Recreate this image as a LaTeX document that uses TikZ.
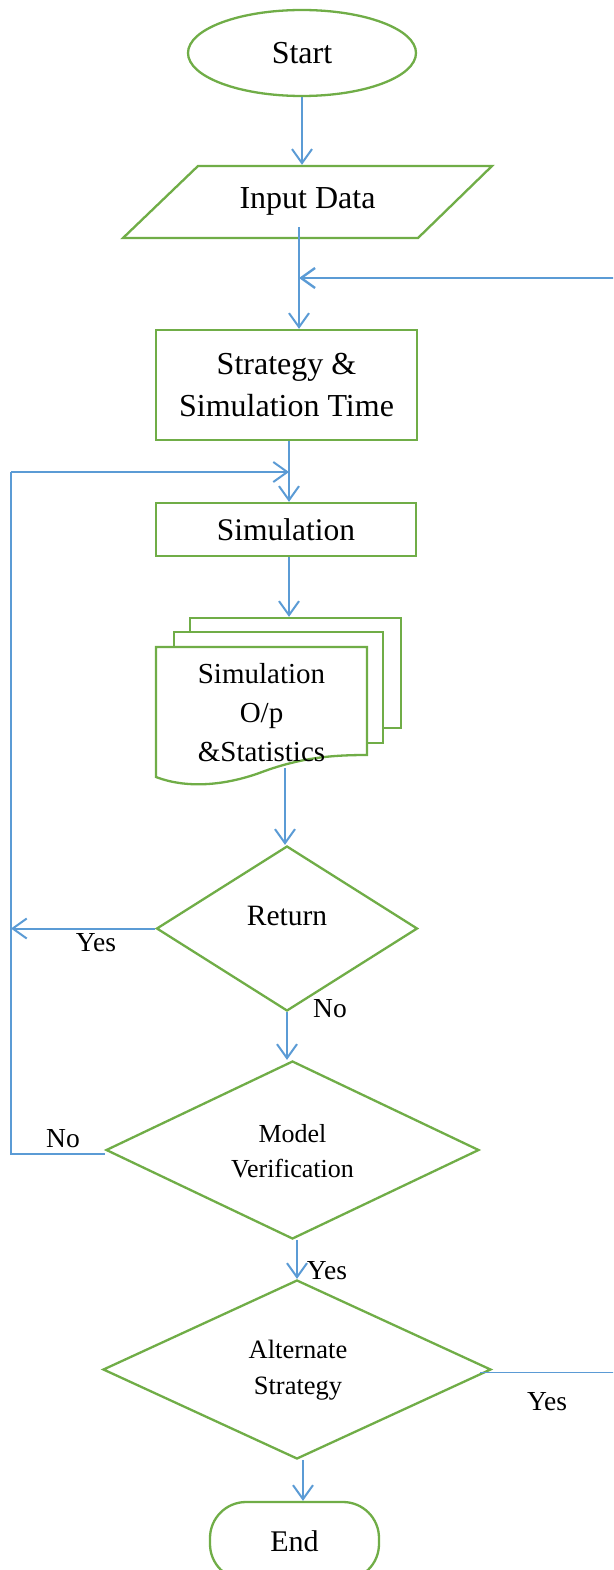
\documentclass[tikz,border=0pt]{standalone}
\usepackage{fontspec}
\setmainfont{Liberation Serif}
\usetikzlibrary{shapes.geometric,arrows.meta}
\definecolor{boxgreen}{HTML}{70AD47}
\definecolor{flowblue}{HTML}{5B9BD5}
\begin{document}
\begin{tikzpicture}[x=1pt,y=-1pt,
  outline/.style={draw=boxgreen, line width=2.3pt, fill=white},
  procbox/.style={outline, rectangle, inner sep=0pt},
  decision/.style={outline, diamond, inner sep=0pt},
  flow/.style={draw=flowblue, line width=2pt, -{Straight Barb[length=14pt,width=20pt]}},
  plainflow/.style={draw=flowblue, line width=1.4pt},
  lbl/.style={font=\fontsize{27.5}{30}\selectfont, inner sep=0pt},
]
\useasboundingbox (0,0) rectangle (613,1570);
\clip (0,0) rectangle (613,1570);

% ---- shapes ----
\node[outline, ellipse, minimum width=228pt, minimum height=86pt, inner sep=0pt,
      font=\fontsize{32}{36}\selectfont] (start) at (302,53) {Start};

% input parallelogram, drawn around its text node
\draw[outline] (198,166) -- (492,166) -- (418,238) -- (123,238) -- cycle;
\node[rectangle, minimum width=295pt, minimum height=72pt, inner sep=0pt,
      font=\fontsize{32}{36}\selectfont] (input) at (307.5,201) {Input Data};

\node[procbox, minimum width=261pt, minimum height=110pt, align=center,
      font=\fontsize{32}{42}\selectfont] (strat) at (286.5,385) {Strategy \&\\Simulation Time};
\node[procbox, minimum width=260pt, minimum height=53pt,
      font=\fontsize{31.5}{34}\selectfont] (sim) at (286,529.5) {Simulation};

% stacked document
\node[procbox, minimum width=211pt, minimum height=110pt] (docback) at (295.5,673) {};
\node[procbox, minimum width=209pt, minimum height=111pt] (docmid) at (278.5,687.5) {};
\draw[outline] (156,647) -- (367,647) -- (367,755)
  .. controls (330,755) and (300,758) .. (262,772)
  .. controls (230,784) and (190,790) .. (156,777) -- cycle;
\node[align=center, inner sep=0pt, font=\fontsize{29}{39}\selectfont] (doc) at (261.5,713)
  {Simulation\\O/p\\\&Statistics};
\coordinate (docout) at (285,768);

% decisions
\node[decision, minimum width=261pt, minimum height=165pt] (ret) at (287,928.5) {};
\node[inner sep=0pt, font=\fontsize{29.5}{32}\selectfont] (rettext) at (287,916) {Return};
\node[decision, minimum width=373pt, minimum height=178pt] (mv) at (292.5,1150) {};
\node[align=center, inner sep=0pt, font=\fontsize{26}{35}\selectfont] (mvtext) at (292.5,1151.5)
  {Model\\Verification};
\node[decision, minimum width=388pt, minimum height=179pt] (alt) at (297,1369.5) {};
\node[align=center, inner sep=0pt, font=\fontsize{26.5}{36}\selectfont] (alttext) at (298,1370)
  {Alternate\\Strategy};

\node[outline, rectangle, rounded corners=36pt, minimum width=169pt, minimum height=78pt,
      inner sep=0pt, font=\fontsize{30}{32}\selectfont] (end) at (294.5,1541) {End};

% ---- junctions ----
\coordinate (j1) at (299,278);
\coordinate (j2) at (289,472);
\coordinate (lft) at (11,472);
\coordinate (rgt) at (616,278);

% ---- connectors ----
\draw[flow] (start.south) -- (start.south |- input.north);
\draw[flow] ([yshift=10pt]input.south -| j1) -- (j1 |- strat.north);
\draw[flow, line width=2.4pt] (rgt) -- (j1);
\draw[flow] (strat.south -| j2) -- (j2 |- sim.north);
\draw[flow] (sim.south -| j2) -- (j2 |- docback.north);
\draw[flow] (docout) -- (docout |- ret.north);
\draw[flow] (ret.west) -- (ret.west -| lft);
\draw[flow] (ret.south) -- (ret.south |- mv.north);
\draw[plainflow] ([yshift=-4pt]mv.west) -| (lft);
\draw[flow] (lft) -- (j2);
\draw[flow] (alt.north |- mv.south) -- (alt.north);
\draw[plainflow, line width=1.2pt] ([xshift=-12pt,yshift=-3pt]alt.east) -- ++(140,0);
\draw[flow] ([xshift=6pt]alt.south) -- ([xshift=6pt]alt.south |- end.north);

% ---- labels ----
\node[lbl] (yes1) at (96,943) {Yes};
\node[lbl] (no1) at (330,1009) {No};
\node[lbl] (no2) at (63,1139) {No};
\node[lbl] (yes2) at (327,1271) {Yes};
\node[lbl] (yes3) at (547,1402) {Yes};
\end{tikzpicture}
\end{document}
